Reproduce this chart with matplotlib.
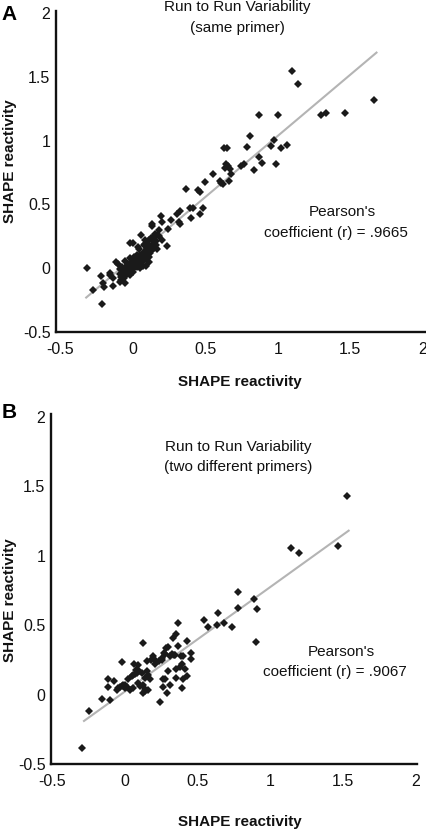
import matplotlib
matplotlib.use("Agg")
import matplotlib.pyplot as plt
import numpy as np

plt.rcParams["font.family"] = ["Liberation Sans", "DejaVu Sans"]

# ---------- panel A: same primer ----------
a_x = [1.096, 1.136, 1.664, 0.871, 1.002, 1.297, 1.329, 1.464, 0.807, 0.632,
       0.650, 0.791, 0.977, 0.950, 1.064, 1.023, 0.871, 0.892, 0.986, 0.839,
       0.770, 0.747, 0.646, 0.660, 0.668, 0.676, 0.639, 0.554, 0.612, 0.664,
       0.620, 0.605, 0.497, 0.366, 0.450, 0.467, 0.393, 0.416, 0.485, 0.467,
       0.405, 0.324, 0.306, 0.324, 0.267, 0.198, 0.205, 0.136, 0.130, 0.182,
       0.152, 0.060, 0.129, 0.110, 0.150, 0.237, 0.168, 0.083, 0.002, 0.044,
       -0.315, -0.216, -0.154, -0.274, -0.200, -0.205, -0.136, -0.209, -0.113, -0.090,
       -0.078, 0.244, 0.320, -0.020, 0.037, 0.152, 0.163, 0.083, -0.159, -0.136,
       -0.090, -0.055,
       -0.08, -0.07, -0.06, -0.06, -0.05, -0.05, -0.04, -0.04, -0.03, -0.03,
       -0.02, -0.02, -0.01, -0.01, 0.00, 0.00, 0.00, 0.01, 0.01, 0.02,
       0.02, 0.03, 0.03, 0.04, 0.04, 0.05, 0.05, 0.06, 0.06, 0.07,
       0.07, 0.08, 0.08, 0.09, 0.10, 0.10, 0.11, 0.12, 0.12, 0.13,
       0.14, 0.15, 0.16, 0.09, 0.11, -0.07, -0.10, -0.09, 0.03, 0.01,
       -0.02, 0.05, 0.07, 0.18, 0.20, 0.17, 0.10, 0.08, -0.05]
a_y = [1.546, 1.447, 1.322, 1.204, 1.204, 1.200, 1.220, 1.220, 1.034, 0.940,
       0.940, 0.951, 1.008, 0.959, 0.967, 0.940, 0.872, 0.825, 0.815, 0.768,
       0.820, 0.800, 0.820, 0.800, 0.775, 0.742, 0.785, 0.742, 0.669, 0.684,
       0.660, 0.680, 0.676, 0.624, 0.616, 0.600, 0.468, 0.470, 0.468, 0.428,
       0.390, 0.450, 0.428, 0.350, 0.381, 0.408, 0.363, 0.350, 0.330, 0.298,
       0.272, 0.259, 0.233, 0.225, 0.215, 0.172, 0.154, 0.193, 0.198, 0.154,
       0.003, -0.063, -0.055, -0.167, -0.146, -0.115, -0.141, -0.277, 0.050, -0.042,
       -0.094, 0.311, 0.363, 0.196, 0.170, 0.260, 0.183, 0.222, -0.040, -0.080,
       -0.105, -0.118,
       -0.07, -0.05, -0.08, -0.03, -0.06, 0.00, -0.04, 0.02, -0.02, 0.03,
       -0.05, 0.01, 0.04, -0.01, 0.02, 0.06, -0.03, 0.00, 0.04, 0.07,
       0.02, 0.05, 0.01, 0.08, 0.03, 0.06, 0.10, 0.04, 0.08, 0.11,
       0.06, 0.09, 0.13, 0.07, 0.11, 0.15, 0.09, 0.12, 0.17, 0.14,
       0.19, 0.16, 0.21, 0.02, 0.05, 0.01, 0.03, -0.01, 0.10, 0.09,
       0.08, 0.00, 0.02, 0.25, 0.22, 0.26, 0.20, 0.18, 0.06]
a_fit_x = [-0.32, 1.68]
a_fit_y = [-0.23, 1.69]

# ---------- panel B: two different primers ----------
b_x = [1.532, 1.146, 1.196, 1.467, 0.778, 0.778, 0.890, 0.913, 0.904, 0.367,
       0.545, 0.644, 0.575, 0.635, 0.683, 0.740, -0.295, -0.249, -0.158, -0.100,
       -0.116, -0.116, -0.077, -0.055, -0.032, -0.009, 0.014, 0.036, -0.016, 0.064,
       0.090, 0.077, 0.100, 0.128, 0.048, 0.070, 0.094, 0.105, 0.128, 0.140,
       0.162, 0.139, 0.160, 0.173, 0.151, 0.180, 0.196, 0.210, 0.237, 0.253,
       0.269, 0.283, 0.300, 0.333, 0.356, 0.425, 0.367, 0.322, 0.340, 0.390,
       0.459, 0.459, 0.397, 0.380, 0.356, 0.299, 0.425, 0.356, 0.276, 0.260,
       0.260, 0.288, 0.397, 0.242, 0.025, 0.000, -0.020, 0.208, 0.253, 0.276,
       0.310, 0.345, 0.402, 0.413, 0.402, 0.310, 0.151, 0.116, 0.082, 0.059,
       0.128, 0.139, 0.059, 0.002, -0.043]
b_y = [1.430, 1.058, 1.020, 1.072, 0.737, 0.623, 0.690, 0.613, 0.379, 0.517,
       0.534, 0.585, 0.483, 0.502, 0.512, 0.483, -0.386, -0.121, -0.031, -0.036,
       0.053, 0.109, 0.097, 0.036, 0.056, 0.070, 0.056, 0.036, 0.237, 0.217,
       0.210, 0.176, 0.170, 0.374, 0.133, 0.150, 0.085, 0.060, 0.012, 0.040,
       0.036, 0.121, 0.140, 0.109, 0.241, 0.250, 0.278, 0.220, 0.241, 0.266,
       0.302, 0.338, 0.345, 0.404, 0.435, 0.386, 0.350, 0.290, 0.285, 0.278,
       0.302, 0.254, 0.217, 0.200, 0.181, 0.169, 0.133, 0.116, 0.109, 0.114,
       0.056, 0.012, 0.048, -0.053, 0.109, 0.050, 0.060, 0.249, 0.249, 0.290,
       0.278, 0.283, 0.278, 0.181, 0.109, 0.072, 0.169, 0.157, 0.157, 0.138,
       0.072, 0.024, 0.048, 0.072, 0.048]
b_fit_x = [-0.28, 1.54]
b_fit_y = [-0.19, 1.18]

TICKS = [-0.5, 0, 0.5, 1, 1.5, 2]
TICK_LABELS = ["-0.5", "0", "0.5", "1", "1.5", "2"]

W, H = 427, 831
fig = plt.figure(figsize=(W / 100, H / 100), dpi=100)


def frac(px, py):
    return px / W, 1 - py / H


def style_axes(ax, xlim, ylim):
    ax.set_xlim(*xlim)
    ax.set_ylim(*ylim)
    ax.set_xticks(TICKS)
    ax.set_xticklabels(TICK_LABELS)
    ax.set_yticks(TICKS)
    ax.set_yticklabels(TICK_LABELS)
    for s in ("top", "right"):
        ax.spines[s].set_visible(False)
    for s in ("left", "bottom"):
        ax.spines[s].set_linewidth(1.7)
        ax.spines[s].set_color("#111111")
    ax.tick_params(axis="both", length=0, labelsize=11.5, colors="#111111")
    ax.tick_params(axis="x", pad=7)
    ax.tick_params(axis="y", pad=4)


def draw_panel(ax, xs, ys, fx, fy):
    ax.plot(fx, fy, color="#b4b4b4", lw=1.5, zorder=1)
    ax.plot(xs, ys, "D", color="#1a1a1a", markersize=4.0, markeredgewidth=0, zorder=2)


# panel A
axA = fig.add_axes([56 / W, 1 - 332 / H, 371 / W, 321 / H])
draw_panel(axA, a_x, a_y, a_fit_x, a_fit_y)
style_axes(axA, (-0.528, 2.028), (-0.5, 2.016))

# panel B
axB = fig.add_axes([51 / W, 1 - 764 / H, 366 / W, 350 / H])
draw_panel(axB, b_x, b_y, b_fit_x, b_fit_y)
style_axes(axB, (-0.507, 2.01), (-0.5, 2.02))

txt = dict(fontsize=11, color="#111111", ha="center", va="center")
bold = dict(fontsize=11, color="#111111", ha="center", va="center", fontweight="bold")

fig.text(*frac(9, 14), "A", fontsize=15, fontweight="bold", ha="center", va="center")
fig.text(*frac(9, 413), "B", fontsize=15, fontweight="bold", ha="center", va="center")

fig.text(*frac(237, 7), "Run to Run Variability", **txt)
fig.text(*frac(237, 28), "(same primer)", **txt)
fig.text(*frac(238, 447), "Run to Run Variability", **txt)
fig.text(*frac(238, 467), "(two different primers)", **txt)

fig.text(*frac(342, 212), "Pearson's", **txt)
fig.text(*frac(336, 233), "coefficient (r) = .9665", **txt)
fig.text(*frac(341, 652), "Pearson's", **txt)
fig.text(*frac(335, 672), "coefficient (r) = .9067", **txt)

fig.text(*frac(240, 382), "SHAPE reactivity", **bold)
fig.text(*frac(240, 822), "SHAPE reactivity", **bold)
fig.text(*frac(10, 161), "SHAPE reactivity", rotation=90, **bold)
fig.text(*frac(10, 600), "SHAPE reactivity", rotation=90, **bold)

fig.savefig("out.png", dpi=100)
